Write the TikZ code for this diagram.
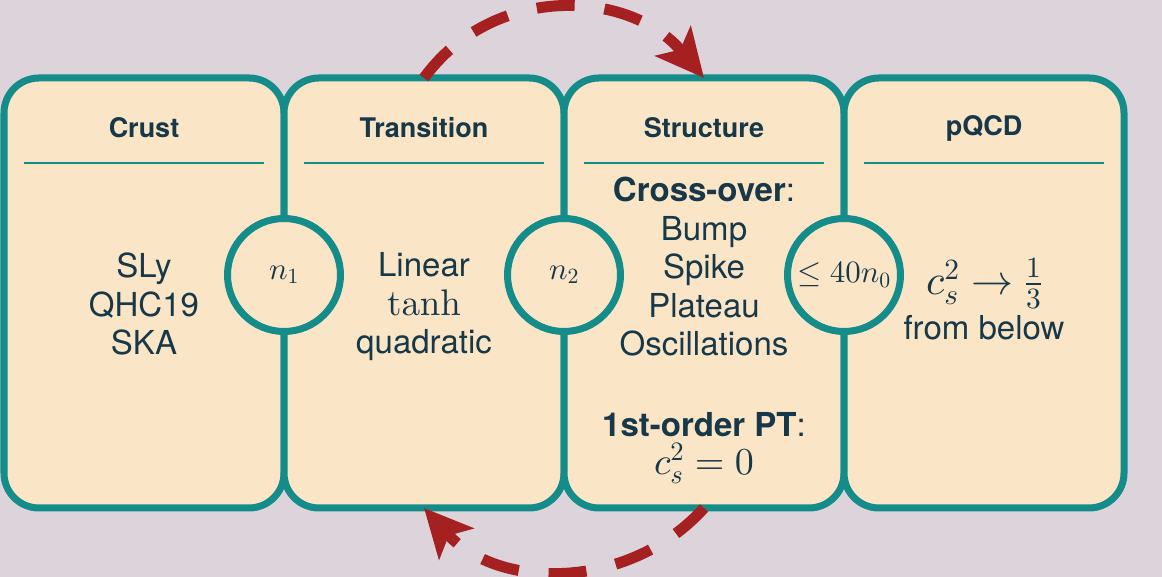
\documentclass[tikz,border=0pt]{standalone}
\usepackage[no-math]{fontspec}
\setmainfont{TeX Gyre Heros}
\usetikzlibrary{positioning, calc, arrows.meta}

% math from the 10pt designs, scaled freely
\DeclareFontShape{OT1}{cmr}{m}{n}{<->cmr10}{}
\DeclareFontShape{OML}{cmm}{m}{it}{<->cmmi10}{}
\DeclareFontShape{OMS}{cmsy}{m}{n}{<->cmsy10}{}
\DeclareFontShape{OMX}{cmex}{m}{n}{<->cmex10}{}

\definecolor{bgmauve}{HTML}{DCD3DB}
\definecolor{paper}{HTML}{FBE5C7}
\definecolor{tealedge}{HTML}{138C8A}
\definecolor{ink}{HTML}{163848}
\definecolor{rust}{HTML}{A52020}

\tikzset{
  stage/.style={draw=tealedge, fill=paper, line width=7pt, rounded corners=35pt,
    minimum width=280pt, minimum height=430pt, outer sep=0pt, inner sep=0pt},
  stagetitle/.style={text=ink, font=\fontsize{27}{30}\selectfont\bfseries},
  titlerule/.style={draw=tealedge, line width=1.5pt},
  body/.style={text=ink, align=center, inner sep=0pt, font=\fontsize{33}{38.5}\selectfont},
  boundary/.style={circle, draw=tealedge, fill=paper, line width=7pt, minimum size=113pt,
    inner sep=0pt, text=ink, font=\fontsize{31}{36}\selectfont},
  cyclearrow/.style={draw=rust, line width=11pt, dash pattern=on 38pt off 30pt,
    -{Stealth[length=48pt, width=46pt, inset=11pt]}}
}

\begin{document}
\begin{tikzpicture}[x=1pt, y=1pt]
  % backdrop
  \fill[bgmauve] (0,0) rectangle (1162,577);
  \useasboundingbox (0,0) rectangle (1162,577);

  % four stages
  \node[stage] (crust) at (144,284) {};
  \node[stage, right=0pt of crust] (trans) {};
  \node[stage, right=0pt of trans] (struct) {};
  \node[stage, right=0pt of struct] (pqcd) {};

  % titles and rules
  \foreach \s/\t in {crust/Crust, trans/Transition, struct/Structure, pqcd/pQCD} {
    \node[stagetitle] (\s-title) at ($(\s.north)+(0,-50)$) {\t};
    \draw[titlerule] ($(\s.north west)+(20,-85)$) -- ($(\s.north east)+(-20,-85)$);
  }

  % contents
  \node[body] (crustlist) at ($(crust.center)+(0,-11)$) {SLy\\QHC19\\SKA};
  \node[body] (translist) at ($(trans.center)+(0,-14)$)
    {Linear\\{\fontsize{37}{40}\selectfont$\tanh$}\\quadratic};
  \node[body] (crosslist) at ($(struct.center)+(0,26)$)
    {\textbf{Cross-over}:\\Bump\\Spike\\Plateau\\Oscillations};
  \node[body] (ptnote) at ($(struct.center)+(0,-155)$)
    {\textbf{1st-order PT}:\\{\fontsize{38}{40}\selectfont$c_s^2=0$}};
  \node[body] (pqcdlimit) at ($(pqcd.center)+(0,9)$)
    {\fontsize{42}{44}\selectfont$c_s^2\rightarrow\frac{1}{3}$};
  \node[body] (pqcdnote) at ($(pqcd.center)+(0,-35)$) {from below};

  % density thresholds
  \node[boundary] (n1) at ($(crust.east)+(0,18)$) {$n_1$};
  \node[boundary] (n2) at ($(trans.east)+(0,18)$) {$n_2$};
  \node[boundary] (n0) at ($(struct.east)+(0,18)$) {$\leq 40n_0$};

  % iteration arrows
  \draw[cyclearrow] (trans.north) to[out=54, in=130, looseness=1.07] (struct.north);
  \draw[cyclearrow] (struct.south) to[out=-132, in=-48, looseness=1.02] (trans.south);
\end{tikzpicture}
\end{document}
